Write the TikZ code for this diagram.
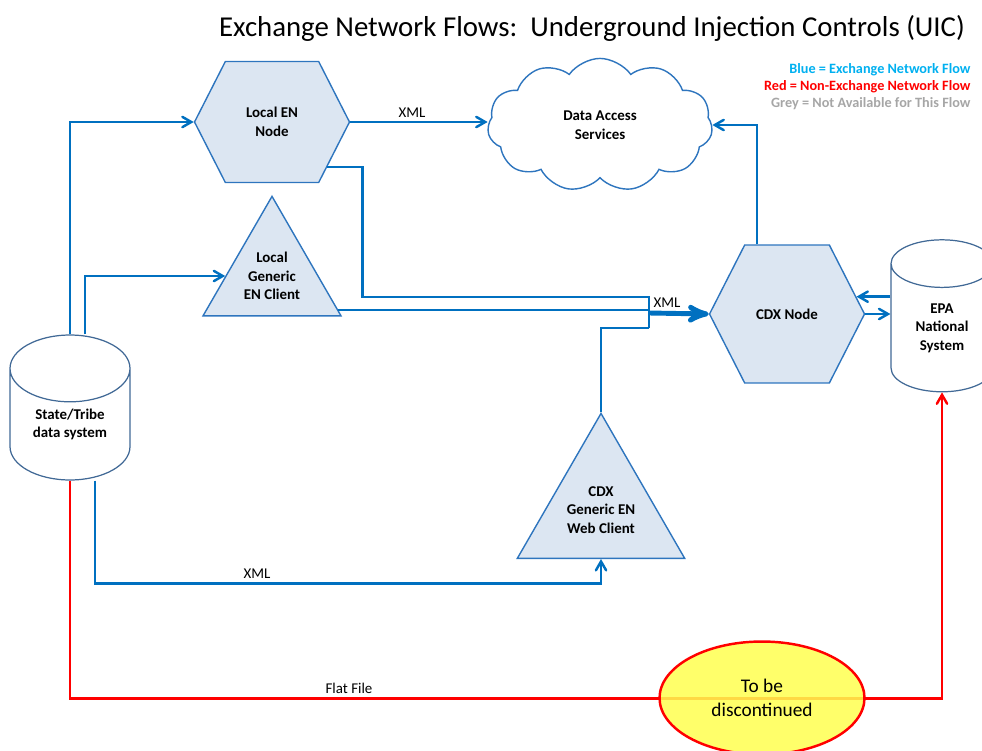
\documentclass[tikz,border=0pt]{standalone}
\usepackage{fontspec}
\setmainfont{Carlito}
\usetikzlibrary{arrows,shapes}

\definecolor{flowblue}{RGB}{0,112,192}
\definecolor{shapeedge}{RGB}{46,117,190}
\definecolor{shapefill}{RGB}{220,230,242}
\definecolor{storeedge}{RGB}{65,105,150}
\definecolor{legblue}{RGB}{0,176,240}
\definecolor{leggrey}{RGB}{166,166,166}
\definecolor{stopfill}{RGB}{255,255,80}

\begin{document}
\begin{tikzpicture}[x=0.02cm,y=-0.02cm,>=angle 60,semithick,
    box/.style={draw=shapeedge,fill=shapefill,line width=0.8pt,align=center,
                font=\bfseries\fontsize{8.5}{10.5}\selectfont},
    hexa/.style={box,signal,signal to=west and east,signal pointer angle=126,inner sep=0pt},
    tri/.style={box,regular polygon,regular polygon sides=3,inner sep=0pt},
    store/.style={draw=storeedge,fill=white,line width=0.7pt,cylinder,shape border rotate=90,
                  aspect=0.9,align=center,inner sep=0pt,font=\bfseries\fontsize{8.5}{10.5}\selectfont},
    flow/.style={->,draw=flowblue,line width=1.4pt},
    legend/.style={anchor=east,inner sep=0pt,font=\bfseries\fontsize{8.1}{9.5}\selectfont},
    label/.style={font=\fontsize{8.5}{10}\selectfont,inner sep=2pt}]
    \useasboundingbox (0,0) rectangle (982,750);
    \clip (0,0) rectangle (982,750);
    \node[font=\fontsize{16.4}{19}\selectfont](title)at(592,28){Exchange Network Flows:\ \ Underground Injection Controls (UIC)};
    \node[legend,text=legblue](legblue)at(971,70){Blue = Exchange Network Flow};
    \node[legend,text=red](legred)at(971,87){Red = Non-Exchange Network Flow};
    \node[legend,text=leggrey](leggrey)at(971,104){Grey = Not Available for This Flow};

    \node[hexa,minimum width=3.1cm,minimum height=2.42cm](localen)at(272,122){Local EN\\Node};
    \node[box,fill=white,cloud,cloud puffs=11,cloud puff arc=110,minimum width=4.5cm,minimum height=2.6cm](das)at(600,125){Data Access\\Services};
    \node[tri,minimum size=2.94cm](localclient)at(272,276){Local\\Generic\\EN Client};
    \node[hexa,minimum width=3.1cm,minimum height=2.76cm](cdx)at(787,314){CDX Node};
    \node[tri,minimum size=3.68cm](cdxclient)at(601,510){CDX\\Generic EN\\Web Client};
    \node[store,minimum width=2.04cm,minimum height=3.04cm](epa)at(942,328){EPA\\National\\System};
    \node[store,minimum width=2.4cm,minimum height=2.9cm](state)at(70,424.5){State/Tribe\\data system};

    \coordinate(jtop)at(649,297);
    \coordinate(jmid)at(649,313);
    \coordinate(jbot)at(649,328);

    % blue flows
    \draw[flow] (state.north) |- (localen.west);
    \draw[flow] ([xshift=0.3cm]state.north) |- (localclient.west);
    \draw[flow] (localen.east) -- (localen.east -| das.west) node[label,pos=0.45,above]{XML};
    \draw[flow,-] (localen.-39) -- ++(35,0) |- (jtop) -- (jbot);
    \draw[flow,-] (localclient.-27) -- (localclient.-27 -| jtop);
    \draw[flow,-] (cdxclient.north) |- (jbot);
    \draw[draw=flowblue,line width=2.8pt,-stealth'] (jmid) -- (cdx.west) node[label,pos=0.3,above]{XML};
    \draw[flow] ([xshift=-0.6cm]cdx.north) |- (das.east);
    \draw[flow] (cdx.east) -- (cdx.east -| epa.west);
    \draw[flow] (cdx.14 -| epa.west) -- (cdx.14);
    \draw[flow] ([xshift=0.5cm]state.south) -- ++(0,103) -| (cdxclient.south) node[label,pos=0.16,above]{XML};

    % red flow
    \draw[->,draw=red,line width=1.4pt] (state.south) -- ++(0,218) -| (epa.south) node[label,pos=0.16,above]{Flat File};
    \node[ellipse,draw=red,line width=1.4pt,fill=stopfill,fill opacity=0.85,text opacity=1,
          minimum width=4.1cm,minimum height=2.26cm,align=center,
          font=\fontsize{11}{14}\selectfont](stop)at(762,698){To be\\discontinued};
\end{tikzpicture}
\end{document}
